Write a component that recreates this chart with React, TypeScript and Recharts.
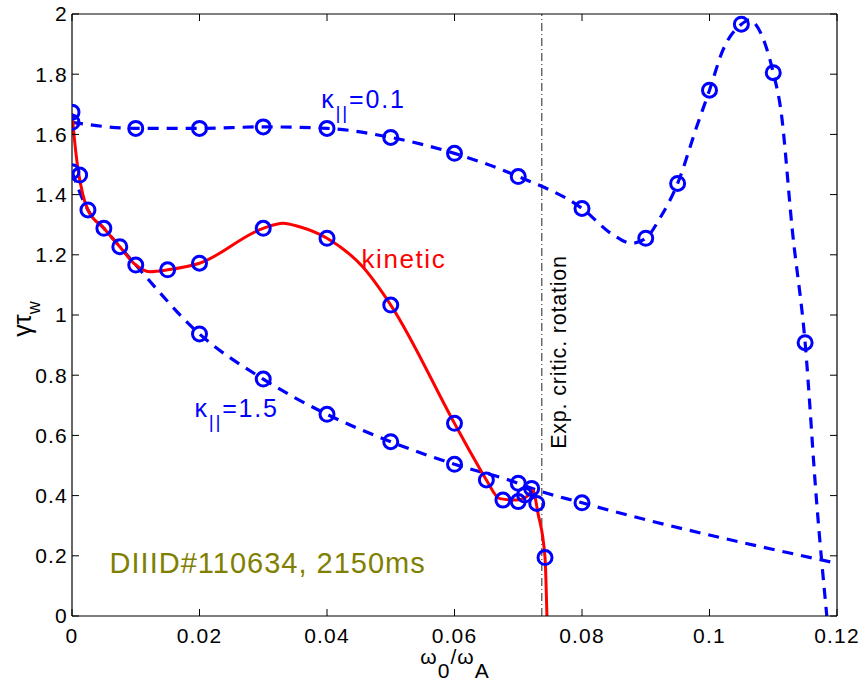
import React from 'react';
import { ComposedChart, Line, XAxis, YAxis, ReferenceLine, ReferenceDot, Label } from 'recharts';

// x = omega_0 / omega_A, y = gamma * tau_w
const xTicks = [0, 0.02, 0.04, 0.06, 0.08, 0.1, 0.12];
const yTicks = [0, 0.2, 0.4, 0.6, 0.8, 1, 1.2, 1.4, 1.6, 1.8, 2];

// circles, kappa_par = 0.1
const kappa01Points = [
  { x: 0, y: 1.64 }, { x: 0.01, y: 1.62 }, { x: 0.02, y: 1.62 }, { x: 0.03, y: 1.625 },
  { x: 0.04, y: 1.62 }, { x: 0.05, y: 1.59 }, { x: 0.06, y: 1.537 }, { x: 0.07, y: 1.46 },
  { x: 0.08, y: 1.354 }, { x: 0.09, y: 1.255 }, { x: 0.095, y: 1.437 }, { x: 0.1, y: 1.747 },
  { x: 0.105, y: 1.966 }, { x: 0.11, y: 1.805 }, { x: 0.115, y: 0.908 },
];
// dashed fit
const kappa01Trace = [
  { x: 0, y: 1.64 }, { x: 0.01, y: 1.62 }, { x: 0.02, y: 1.62 }, { x: 0.03, y: 1.625 },
  { x: 0.04, y: 1.62 }, { x: 0.05, y: 1.59 }, { x: 0.06, y: 1.537 }, { x: 0.07, y: 1.46 },
  { x: 0.08, y: 1.354 }, { x: 0.0849, y: 1.266 }, { x: 0.0878, y: 1.238 }, { x: 0.09, y: 1.255 },
  { x: 0.0922, y: 1.321 }, { x: 0.095, y: 1.437 }, { x: 0.098, y: 1.626 }, { x: 0.1, y: 1.747 },
  { x: 0.1021, y: 1.88 }, { x: 0.105, y: 1.966 }, { x: 0.1062, y: 1.98 }, { x: 0.1087, y: 1.902 },
  { x: 0.11, y: 1.805 }, { x: 0.1112, y: 1.68 }, { x: 0.113, y: 1.28 }, { x: 0.115, y: 0.908 },
  { x: 0.1168, y: 0.38 }, { x: 0.1184, y: 0 },
];

// circles, kappa_par = 1.5
const kappa15Points = [
  { x: 0, y: 1.476 }, { x: 0.02, y: 0.937 }, { x: 0.03, y: 0.787 }, { x: 0.04, y: 0.67 },
  { x: 0.05, y: 0.579 }, { x: 0.06, y: 0.504 }, { x: 0.07, y: 0.441 }, { x: 0.0721, y: 0.424 },
  { x: 0.08, y: 0.376 },
];
const kappa15Trace = [
  { x: 0, y: 1.476 }, { x: 0.0025, y: 1.349 }, { x: 0.005, y: 1.288 }, { x: 0.0075, y: 1.227 },
  { x: 0.01, y: 1.166 }, { x: 0.02, y: 0.937 }, { x: 0.03, y: 0.787 }, { x: 0.04, y: 0.67 },
  { x: 0.05, y: 0.579 }, { x: 0.06, y: 0.504 }, { x: 0.07, y: 0.441 }, { x: 0.0721, y: 0.424 },
  { x: 0.08, y: 0.376 }, { x: 0.12, y: 0.175 },
];

// circles, kinetic
const kineticPoints = [
  { x: 0, y: 1.674 }, { x: 0.0012, y: 1.465 }, { x: 0.0025, y: 1.349 }, { x: 0.005, y: 1.288 },
  { x: 0.0075, y: 1.227 }, { x: 0.01, y: 1.166 }, { x: 0.015, y: 1.15 }, { x: 0.02, y: 1.172 },
  { x: 0.03, y: 1.288 }, { x: 0.04, y: 1.255 }, { x: 0.05, y: 1.033 }, { x: 0.06, y: 0.64 },
  { x: 0.065, y: 0.452 }, { x: 0.0676, y: 0.385 }, { x: 0.07, y: 0.38 }, { x: 0.071, y: 0.402 },
  { x: 0.0729, y: 0.374 }, { x: 0.0742, y: 0.194 },
];
// red solid fit
const kineticTrace = [
  { x: 0, y: 1.67 }, { x: 0.0004, y: 1.58 }, { x: 0.0009, y: 1.49 }, { x: 0.0017, y: 1.4 },
  { x: 0.0025, y: 1.349 }, { x: 0.005, y: 1.288 }, { x: 0.0075, y: 1.227 }, { x: 0.0098, y: 1.17 },
  { x: 0.0122, y: 1.144 }, { x: 0.015, y: 1.15 }, { x: 0.02, y: 1.172 },
  { x: 0.03, y: 1.288 }, { x: 0.0331, y: 1.305 }, { x: 0.0357, y: 1.293 }, { x: 0.04, y: 1.255 },
  { x: 0.0456, y: 1.16 }, { x: 0.05, y: 1.033 }, { x: 0.06, y: 0.64 },
  { x: 0.0629, y: 0.529 }, { x: 0.065, y: 0.452 }, { x: 0.0671, y: 0.39 }, { x: 0.0697, y: 0.385 },
  { x: 0.0713, y: 0.396 }, { x: 0.0723, y: 0.416 }, { x: 0.0731, y: 0.341 }, { x: 0.0742, y: 0.194 },
  { x: 0.0745, y: 0 },
];

const critRotation = 0.0737;

const BLUE = '#0000ff';
const RED = '#ff0000';
const FONT = '"Liberation Sans", Arial, Helvetica, sans-serif';

const fmt = (v: number) => String(Number(v.toFixed(2)));
const blank = () => '';

const circle = { r: 7, stroke: BLUE, strokeWidth: 3, fill: 'none' };

const tickStyle = { fontSize: 21, fill: '#000', fontFamily: FONT, letterSpacing: 1.2 };

const textAt = (render: (x: number, y: number) => React.ReactNode) => (props: any) => {
  const vb = props.viewBox || {};
  return render(vb.x ?? 0, vb.y ?? 0);
};

export default function App() {
  return (
    <div style={{ position: 'absolute', left: 0, top: 0, background: '#fff', fontFamily: FONT }}>
      <ComposedChart width={861} height={682} margin={{ top: 13, right: 23, bottom: 0, left: 0 }}>
        <XAxis
          type="number"
          dataKey="x"
          domain={[0, 0.12]}
          ticks={xTicks}
          tickFormatter={fmt}
          height={66}
          tickSize={-7}
          tickMargin={19}
          axisLine={{ stroke: '#000', strokeWidth: 1.2 }}
          tickLine={{ stroke: '#000', strokeWidth: 1 }}
          tick={tickStyle}
          allowDataOverflow
        >
          <Label
            content={() => (
              <text x={455} y={664} textAnchor="middle" fontSize={21} fontFamily={FONT} fill="#000" letterSpacing={1}>
                ω<tspan dy={14}>0</tspan><tspan dy={-14}>/ω</tspan><tspan dy={14}>A</tspan>
              </text>
            )}
          />
        </XAxis>
        <XAxis
          xAxisId="top"
          orientation="top"
          type="number"
          dataKey="x"
          domain={[0, 0.12]}
          ticks={xTicks}
          tickFormatter={blank}
          height={1}
          tickSize={-7}
          axisLine={{ stroke: '#000', strokeWidth: 1.2 }}
          tickLine={{ stroke: '#000', strokeWidth: 1 }}
          allowDataOverflow
        />
        <YAxis
          type="number"
          domain={[0, 2]}
          ticks={yTicks}
          tickFormatter={fmt}
          width={72}
          tickSize={-7}
          tickMargin={11}
          axisLine={{ stroke: '#000', strokeWidth: 1.2 }}
          tickLine={{ stroke: '#000', strokeWidth: 1 }}
          tick={tickStyle}
          allowDataOverflow
        >
          <Label
            content={() => (
              <text
                transform="translate(31,319) rotate(-90)"
                textAnchor="middle"
                fontSize={25}
                fontFamily={FONT}
                fill="#000"
              >
                γτ<tspan dy={9} fontSize={18}>w</tspan>
              </text>
            )}
          />
        </YAxis>
        <YAxis
          yAxisId="right"
          orientation="right"
          type="number"
          domain={[0, 2]}
          ticks={yTicks}
          tickFormatter={blank}
          width={1}
          tickSize={-7}
          axisLine={{ stroke: '#000', strokeWidth: 1.2 }}
          tickLine={{ stroke: '#000', strokeWidth: 1 }}
          allowDataOverflow
        />

        <ReferenceLine x={critRotation} stroke="#222" strokeWidth={1} strokeDasharray="8 3 1 3" />

        <Line data={kappa01Trace} dataKey="y" type="monotone" stroke={BLUE} strokeWidth={3.2}
          strokeDasharray="11 8" dot={false} isAnimationActive={false} />
        <Line data={kappa15Trace} dataKey="y" type="monotone" stroke={BLUE} strokeWidth={3.2}
          strokeDasharray="11 8" dot={false} isAnimationActive={false} />

        <Line data={kappa01Points} dataKey="y" stroke="none" dot={circle} isAnimationActive={false} />
        <Line data={kappa15Points} dataKey="y" stroke="none" dot={circle} isAnimationActive={false} />
        <Line data={kineticPoints} dataKey="y" stroke="none" dot={circle} isAnimationActive={false} />

        <Line data={kineticTrace} dataKey="y" type="monotone" stroke={RED} strokeWidth={3}
          dot={false} isAnimationActive={false} />

        <ReferenceDot x={0.0391} y={1.688} r={0} stroke="none" fill="none"
          label={{ content: textAt((x, y) => (
            <text x={x} y={y} fill={BLUE} fontSize={25} fontFamily={FONT} letterSpacing={1.8}>
              κ<tspan dy={11} fontSize={19}>||</tspan><tspan dy={-11}>=0.1</tspan>
            </text>
          )) }} />
        <ReferenceDot x={0.0192} y={0.662} r={0} stroke="none" fill="none"
          label={{ content: textAt((x, y) => (
            <text x={x} y={y} fill={BLUE} fontSize={25} fontFamily={FONT} letterSpacing={1.8}>
              κ<tspan dy={11} fontSize={19}>||</tspan><tspan dy={-11}>=1.5</tspan>
            </text>
          )) }} />
        <ReferenceDot x={0.0454} y={1.155} r={0} stroke="none" fill="none"
          label={{ content: textAt((x, y) => (
            <text x={x} y={y} fill={RED} fontSize={26} fontFamily={FONT} letterSpacing={1.6}>kinetic</text>
          )) }} />
        <ReferenceDot x={0.0059} y={0.142} r={0} stroke="none" fill="none"
          label={{ content: textAt((x, y) => (
            <text x={x} y={y} fill="#808000" fontSize={29} fontFamily={FONT} letterSpacing={1}>
              DIIID#110634, 2150ms
            </text>
          )) }} />
        <ReferenceDot x={critRotation} y={0.877} r={0} stroke="none" fill="none"
          label={{ content: textAt((x, y) => (
            <text
              transform={`translate(${x + 24},${y}) rotate(-90)`}
              textAnchor="middle"
              fill="#000"
              fontSize={21.5}
              fontFamily={FONT}
              letterSpacing={0.8}
            >
              Exp. critic. rotation
            </text>
          )) }} />
      </ComposedChart>
    </div>
  );
}
